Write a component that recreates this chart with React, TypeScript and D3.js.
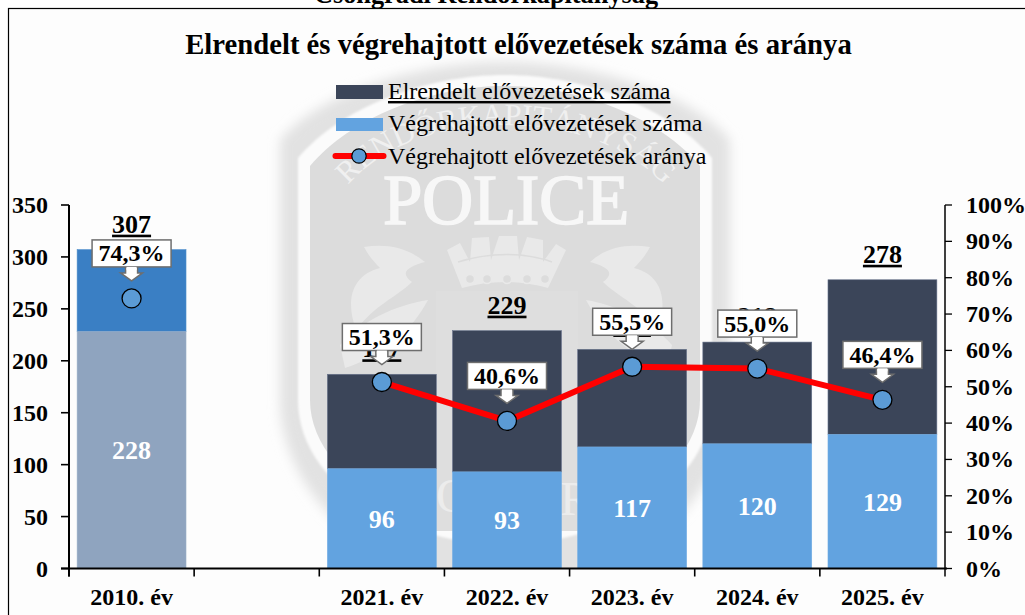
import React from "react";
import * as d3 from "d3";

const categories = ["2010. év", "", "2021. év", "2022. év", "2023. év", "2024. év", "2025. év"];
const executed = [228, null, 96, 93, 117, 120, 129];
const ordered = [307, null, 187, 229, 211, 218, 278];
const ratio = [74.3, null, 51.3, 40.6, 55.5, 55.0, 46.4];
const ratioLabels = ["74,3%", "", "51,3%", "40,6%", "55,5%", "55,0%", "46,4%"];
const leftTicks = [0, 50, 100, 150, 200, 250, 300, 350];
const rightTicks = [0, 10, 20, 30, 40, 50, 60, 70, 80, 90, 100];
const legendLabels = ["Elrendelt elővezetések száma", "Végrehajtott elővezetések száma", "Végrehajtott elővezetések aránya"];
const title = "Elrendelt és végrehajtott elővezetések száma és aránya";
const clippedHeading = "Csongrádi Rendőrkapitányság";
const watermarkWord = "POLICE";
const watermarkArc = "RENDŐRKAPITÁNYSÁG";
const pearls = [470, 487, 507, 527, 545];

const W = 1025, H = 615;
const X0 = 69, X1 = 945, Y0 = 568.5, Y1 = 205;
const DARK = "#3b4559", LIGHT = "#62a3e0", POINT = "#5b9bd5";
const FONT = "'Liberation Serif', serif";

const x = d3.scaleBand<string>().domain(categories.map((c, i) => c || "blank" + i)).range([X0, X1]).paddingInner(0.13).paddingOuter(0.065);
const y = d3.scaleLinear().domain([0, 350]).range([Y0, Y1]);
const yP = d3.scaleLinear().domain([0, 100]).range([Y0, Y1]);
const key = (i: number) => categories[i] || "blank" + i;
const cx = (i: number) => x(key(i))! + x.bandwidth() / 2;

const lineIdx = [2, 3, 4, 5, 6];
const linePath = d3.line<number>().x(cx).y(i => yP(ratio[i] as number))(lineIdx)!;

function Watermark() {
  const outer = "M280,140 C320,92 420,62 505,62 C590,62 690,92 730,140 L730,400 C730,490 640,585 505,590 C370,585 280,490 280,400 Z";
  const ring = "M298,158 C340,108 425,75 505,75 C585,75 670,108 712,158 L712,400 C712,480 620,540 505,546 C390,540 298,480 298,400 Z";
  const inner = "M310,166 C350,118 430,86 505,86 C580,86 660,118 700,166 L700,400 C700,470 610,530 505,535 C400,530 310,470 310,400 Z";
  const w = "#e9e9e9";
  return (
    <g clipPath="url(#wmClip)">
      <path d={outer} fill="#e2e2e2" filter="url(#wmBlur)" />
      <path d={ring} fill="#fbfbfb" filter="url(#wmBlurSmall)" />
      <path d={inner} fill="#dcdcdc" />
      <path id="wmArc" d="M340,195 C380,140 450,125 505,125 C560,125 630,140 672,195" fill="none" />
      <text fontFamily={FONT} fontSize={31} fill="#f0f0f0">
        <textPath href="#wmArc" startOffset="50%" textAnchor="middle">{watermarkArc}</textPath>
      </text>
      <text x={506} y={224} textAnchor="middle" fontFamily={FONT} fontSize={71} fill="#f7f7f7" stroke="#f7f7f7" strokeWidth={1.5} letterSpacing={-0.4}>{watermarkWord}</text>
      <path d="M447,250 L460,243 L470,262 L472,238 L489,237 L491,260 L499,236 L517,236 L519,260 L527,237 L543,240 L543,262 L556,244 L566,250 L548,288 C520,280 490,280 462,288 Z" fill={w} />
      <path d="M458,262 C490,252 525,252 552,262" fill="none" stroke="#dcdcdc" strokeWidth={1.5} />
      {pearls.map(p => <circle key={p} cx={p} cy={279} r={4.5} fill="#dcdcdc" stroke={w} strokeWidth={1.5} />)}
      <rect x={436} y={291} width={142} height={240} fill="#dedede" />
      <path d="M364,247 C385,244 405,246 425,262 C410,266 398,272 412,282 C395,298 375,305 356,330 C345,300 352,275 380,268 C374,262 368,255 364,247 Z" fill={w} />
      <path d="M650,247 C628,244 608,246 590,262 C605,266 617,272 603,282 C620,298 640,305 658,330 C668,300 662,275 634,268 C640,262 646,255 650,247 Z" fill={w} />
      <path d="M340,345 C360,322 395,305 428,300 C412,330 385,355 345,368 Z" fill={w} />
      <path d="M672,345 C652,322 617,305 586,300 C602,330 627,355 667,368 Z" fill={w} />
      <text x={436} y={512} fontFamily={FONT} fontSize={48} fill="#ececec">O</text>
      <text x={560} y={515} fontFamily={FONT} fontSize={48} fill="#ececec">R</text>
    </g>
  );
}

function Callout({ i }: { i: number }) {
  const px = cx(i), py = yP(ratio[i] as number);
  const bw = 79, bh = 27, bottom = py - 31.5, tip = py - 17.5;
  const arrow = `M${px - 6},${bottom} L${px - 6},${tip - 8} L${px - 11},${tip - 8} L${px},${tip} L${px + 11},${tip - 8} L${px + 6},${tip - 8} L${px + 6},${bottom}`;
  return (
    <g>
      <path d={arrow} fill="#fff" stroke="#6e6e6e" strokeWidth={1.5} />
      <rect x={px - bw / 2} y={bottom - bh} width={bw} height={bh} fill="#fff" stroke="#6e6e6e" strokeWidth={1.5} />
      <path d={`M${px - 5},${bottom} L${px - 5},${bottom + 3} L${px + 5},${bottom + 3} L${px + 5},${bottom}`} fill="#fff" />
      <text x={px} y={bottom - 5.5} textAnchor="middle" fontFamily={FONT} fontSize={24} fontWeight="bold" fill="#000">{ratioLabels[i]}</text>
    </g>
  );
}

export default function App() {
  const idx = categories.map((_, i) => i).filter(i => executed[i] !== null);
  return (
    <svg width={W} height={H} viewBox={`0 0 ${W} ${H}`} style={{ position: "absolute", left: 0, top: 0, display: "block", background: "#fff" }}>
      <defs>
        <filter id="wmBlur" x="-10%" y="-10%" width="120%" height="120%"><feGaussianBlur stdDeviation="6" /></filter>
        <filter id="wmBlurSmall" x="-10%" y="-10%" width="120%" height="120%"><feGaussianBlur stdDeviation="1" /></filter>
        <clipPath id="wmClip"><rect x={9} y={10} width={1016} height={559} /></clipPath>
      </defs>
      <rect x={8.5} y={8.5} width={1030} height={620} fill="#fdfdfd" stroke="#000" strokeWidth={1.2} />
      <text x={486} y={3} textAnchor="middle" fontFamily={FONT} fontSize={26.3} fontWeight="bold" fill="#000">{clippedHeading}</text>
      <Watermark />
      <text x={518.5} y={54} textAnchor="middle" fontFamily={FONT} fontSize={28.7} fontWeight="bold" fill="#000">{title}</text>

      {/* legend */}
      <rect x={336} y={85} width={47} height={14} fill={DARK} />
      <rect x={336} y={118} width={47} height={13} fill={LIGHT} />
      <line x1={335.5} x2={383.5} y1={156} y2={156} stroke="#ff0000" strokeWidth={6} strokeLinecap="round" />
      <circle cx={359} cy={156} r={7.2} fill={POINT} stroke="#000" strokeWidth={1.2} />
      {legendLabels.map((t, i) => (
        <text key={t} x={388} y={[99, 131, 164][i]} fontFamily={FONT} fontSize={24} fill="#000"
          textDecoration={i === 0 ? "underline" : undefined}>{t}</text>
      ))}

      {/* bars */}
      {idx.map(i => {
        const is2010 = i === 0;
        const e = executed[i] as number, t = ordered[i] as number;
        return (
          <g key={i}>
            <rect x={x(key(i))} y={y(t)} width={x.bandwidth()} height={y(e) - y(t)} fill={is2010 ? "#3a7fc4" : DARK} stroke={is2010 ? "#4a8ccb" : "#66718a"} strokeWidth={0.6} />
            <rect x={x(key(i))} y={y(e)} width={x.bandwidth()} height={y(0) - y(e)} fill={is2010 ? "#8fa4bf" : LIGHT} stroke={is2010 ? "#9bafc8" : "#6fabe3"} strokeWidth={0.6} />
            <text x={cx(i)} y={(y(0) + y(e)) / 2 + 9} textAnchor="middle" fontFamily={FONT} fontSize={26} fontWeight="bold" fill="#fff">{e}</text>
            <text x={cx(i)} y={y(t) - 17} textAnchor="middle" fontFamily={FONT} fontSize={26} fontWeight="bold" fill="#000" textDecoration="underline">{t}</text>
          </g>
        );
      })}

      {/* axes */}
      <g stroke="#000" fill="none">
        <line x1={X0} x2={X0} y1={Y1} y2={Y0 + 8} strokeWidth={2} />
        <line x1={X1} x2={X1} y1={Y1} y2={Y0 + 8} strokeWidth={1.5} />
        <line x1={X0 - 8} x2={X1 + 2} y1={Y0} y2={Y0} strokeWidth={2} />
        {leftTicks.map(t => <line key={t} x1={X0 - 8} x2={X0} y1={y(t)} y2={y(t)} strokeWidth={1.6} />)}
        {rightTicks.map(t => <line key={t} x1={X1} x2={X1 + 7} y1={yP(t)} y2={yP(t)} strokeWidth={1.3} />)}
        {categories.map((_, i) => <line key={i} x1={x(key(i))! - x.step() * 0.065} x2={x(key(i))! - x.step() * 0.065} y1={Y0} y2={Y0 + 8} strokeWidth={1.6} />)}
      </g>
      {leftTicks.map(t => <text key={t} x={48} y={y(t) + 8} textAnchor="end" fontFamily={FONT} fontSize={24} fontWeight="bold" fill="#000">{t}</text>)}
      {rightTicks.map(t => <text key={t} x={966} y={yP(t) + 8} fontFamily={FONT} fontSize={24} fontWeight="bold" fill="#000">{t}%</text>)}
      {categories.map((c, i) => c && <text key={c} x={cx(i)} y={605} textAnchor="middle" fontFamily={FONT} fontSize={24} fontWeight="bold" fill="#000">{c}</text>)}

      {/* line */}
      <path d={linePath} fill="none" stroke="#ff0000" strokeWidth={6} strokeLinejoin="round" />
      {idx.map(i => <circle key={i} cx={cx(i)} cy={yP(ratio[i] as number)} r={9.5} fill={POINT} stroke="#000" strokeWidth={1.3} />)}
      {idx.map(i => <Callout key={i} i={i} />)}
    </svg>
  );
}
